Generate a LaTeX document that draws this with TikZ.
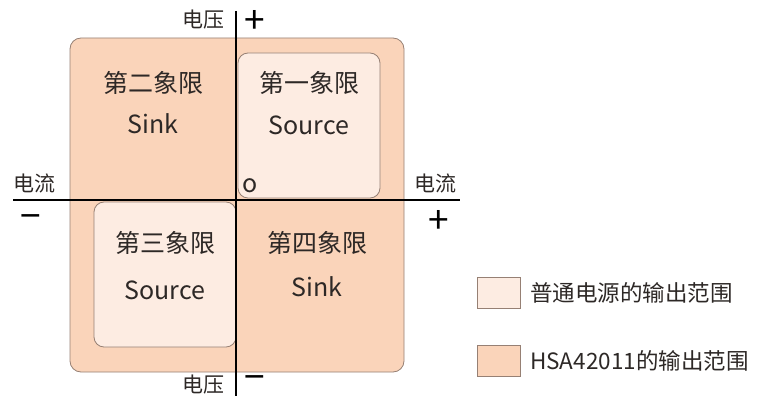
\documentclass[tikz,border=0pt]{standalone}
\usepackage{fontspec}
\setmainfont{Noto Sans CJK SC}
\usetikzlibrary{positioning}

\definecolor{hsa}{RGB}{250,212,186}
\definecolor{normal}{RGB}{253,236,226}
\definecolor{edge}{RGB}{150,128,116}
\definecolor{txt}{RGB}{45,40,38}

\begin{document}
\begin{tikzpicture}[x=1pt,y=-1pt,node distance=42pt,on grid,
    outrange/.style={draw=edge,line width=0.8pt,rounded corners=11pt},
    quad/.style={font=\fontsize{25}{28}\selectfont,text=txt,inner sep=0pt},
    axlabel/.style={font=\fontsize{21}{24}\selectfont,text=txt,inner sep=0pt},
    sign/.style={font=\fontsize{37}{39}\selectfont,text=black,inner sep=0pt},
    legbox/.style={draw=edge,line width=0.8pt,minimum width=43pt,minimum height=31pt,inner sep=0pt},
    legtext/.style={font=\fontsize{22.5}{25}\selectfont,text=txt,inner sep=0pt,anchor=west}]
  \useasboundingbox (0,0) rectangle (767,398);
  % output ranges
  \draw[outrange,fill=hsa] (70,38) rectangle (404,372);
  \draw[outrange,fill=normal,rounded corners=10pt] (238,53) rectangle (380,198);
  \draw[outrange,fill=normal,rounded corners=10pt] (94,202) rectangle (236,347);
  % axes
  \coordinate (vtop) at (236,11);
  \coordinate (vbot) at (236,396);
  \coordinate (hleft) at (13,200);
  \coordinate (hright) at (460,200);
  \draw[line width=1.6pt] (vtop) -- (vbot);
  \draw[line width=1.6pt] (hleft) -- (hright);
  % axis labels
  \node[axlabel] (vup) at (203,20) {电压};
  \node[sign] (vplus) at (255,22) {+};
  \node[axlabel] (vdown) at (203,385) {电压};
  \node[sign] (vminus) at (255,383) {−};
  \node[axlabel] (ileft) at (34,183) {电流};
  \node[sign] (iminus) at (31,222) {−};
  \node[axlabel] (iright) at (435,183) {电流};
  \node[sign] (iplus) at (439,222) {+};
  \node[quad] (origin) at (250,186) {o};
  % quadrants
  \node[quad] (q2) at (153,83) {第二象限};
  \node[quad] (q2s) [below=41pt of q2] {Sink};
  \node[quad] (q1) at (309,83) {第一象限};
  \node[quad] (q1s) [below=42pt of q1] {Source};
  \node[quad] (q3) at (165,243) {第三象限};
  \node[quad] (q3s) [below=47pt of q3] {Source};
  \node[quad] (q4) at (317,243) {第四象限};
  \node[quad] (q4s) [below=44pt of q4] {Sink};
  % legend
  \node[legbox,fill=normal] (lnormal) at (499,293) {};
  \node[legtext] (tnormal) at ([xshift=9pt]lnormal.east) {普通电源的输出范围};
  \node[legbox,fill=hsa] (lhsa) at (499,361) {};
  \node[legtext] (thsa) at ([xshift=9pt]lhsa.east) {HSA42011的输出范围};
\end{tikzpicture}
\end{document}
